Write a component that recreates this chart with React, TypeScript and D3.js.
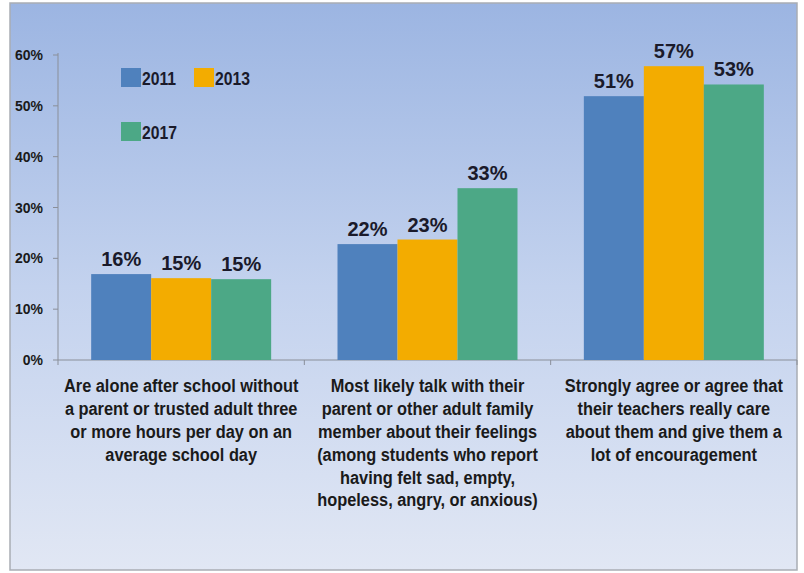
import React from "react";
import * as d3 from "d3";

const categories = [
  "Are alone after school without a parent or trusted adult three or more hours per day on an average school day",
  "Most likely talk with their parent or other adult family member about their feelings (among students who report having felt sad, empty, hopeless, angry, or anxious)",
  "Strongly agree or agree that their teachers really care about them and give them a lot of encouragement",
];
const categoryLines = [
  ["Are alone after school without", "a parent or trusted adult three", "or more hours per day on an", "average school day"],
  ["Most likely talk with their", "parent or other adult family", "member about their feelings", "(among students who report", "having felt sad, empty,", "hopeless, angry, or anxious)"],
  ["Strongly agree or agree that", "their teachers really care", "about them and give them a", "lot of encouragement"],
];
const seriesNames = ["2011", "2013", "2017"];
const values2011 = [16.9, 22.8, 51.9];
const values2013 = [16.1, 23.7, 57.8];
const values2017 = [15.9, 33.8, 54.2];
const labels2011 = ["16%", "22%", "51%"];
const labels2013 = ["15%", "23%", "57%"];
const labels2017 = ["15%", "33%", "53%"];
const yTicks = [0, 10, 20, 30, 40, 50, 60];

const colors = ["#4f81bd", "#f3ac00", "#4ca886"];
const seriesValues = [values2011, values2013, values2017];
const seriesLabels = [labels2011, labels2013, labels2017];

export default function App() {
  const W = 804, H = 573;
  const left = 58, right = 797, top = 55, bottom = 360;
  const x0 = d3.scaleBand<number>().domain(d3.range(categories.length)).range([left, right]).padding(0);
  const x1 = d3.scaleBand<string>().domain(seriesNames).range([0, x0.bandwidth()]).paddingInner(0).paddingOuter(0.553);
  const y = d3.scaleLinear().domain([0, 60]).range([bottom, top]);
  const font = "'Liberation Sans', Arial, sans-serif";
  const boundaries = [left, ...d3.range(categories.length).map((i) => (x0(i) as number) + x0.bandwidth())];

  return (
    <svg width={W} height={H} style={{ position: "absolute", left: 0, top: 0 }} fontFamily={font}>
      <defs>
        <linearGradient id="bg" x1="0" y1="0" x2="0" y2="1">
          <stop offset="0%" stopColor="#9cb5e2" />
          <stop offset="50%" stopColor="#c3d2ee" />
          <stop offset="100%" stopColor="#e1e7f4" />
        </linearGradient>
      </defs>
      <rect x={0} y={0} width={W} height={H} fill="#ffffff" />
      <rect x={10} y={3} width={787} height={567} fill="url(#bg)" stroke="#a9adb4" strokeWidth={1.5} />

      {/* y axis */}
      <line x1={left} x2={left} y1={y(60) - 2} y2={bottom} stroke="#8a8f99" strokeWidth={1} />
      {yTicks.map((t) => (
        <g key={t}>
          <line x1={left - 5} x2={left} y1={y(t)} y2={y(t)} stroke="#8a8f99" />
          <text x={43} y={y(t) + 5} textAnchor="end" fontSize={14} fontWeight="bold" fill="#1a1a1a">
            {t}%
          </text>
        </g>
      ))}

      {/* x axis */}
      <line x1={left} x2={right} y1={bottom} y2={bottom} stroke="#8a8f99" />
      {boundaries.map((b, i) => (
        <line key={i} x1={b} x2={b} y1={bottom} y2={bottom + 5} stroke="#8a8f99" />
      ))}

      {/* bars */}
      {seriesNames.map((s, si) => (
        <g key={s}>
          {categories.map((c, ci) => {
            const v = seriesValues[si][ci];
            const bx = (x0(ci) as number) + (x1(s) as number);
            return (
              <g key={ci}>
                <rect x={bx} y={y(v)} width={x1.bandwidth()} height={bottom - y(v)} fill={colors[si]} />
                <text x={bx + x1.bandwidth() / 2} y={y(v) - 8} textAnchor="middle" fontSize={20} fontWeight="bold" fill="#1a1a2a">
                  {seriesLabels[si][ci]}
                </text>
              </g>
            );
          })}
        </g>
      ))}

      {/* category labels */}
      {categoryLines.map((lines, ci) => (
        <g key={ci} transform={`translate(${(x0(ci) as number) + x0.bandwidth() / 2},0) scale(0.88,1)`}>
          <text textAnchor="middle" fontSize={18.6} fontWeight="bold" fill="#1a1a1a">
            {lines.map((ln, li) => (
              <tspan key={li} x={0} y={392.5 + li * 22.8}>
                {ln}
              </tspan>
            ))}
          </text>
        </g>
      ))}

      {/* legend */}
      {seriesNames.map((s, i) => {
        const lx = i === 1 ? 194 : 121;
        const ly = i === 2 ? 122 : 68;
        return (
          <g key={s}>
            <rect x={lx} y={ly} width={20} height={19} fill={colors[i]} />
            <g transform={`translate(${lx + 21},${ly + 16.5}) scale(0.9,1)`}>
              <text x={0} y={0} fontSize={17.5} fontWeight="bold" fill="#1a1a2a">
                {s}
              </text>
            </g>
          </g>
        );
      })}
    </svg>
  );
}
